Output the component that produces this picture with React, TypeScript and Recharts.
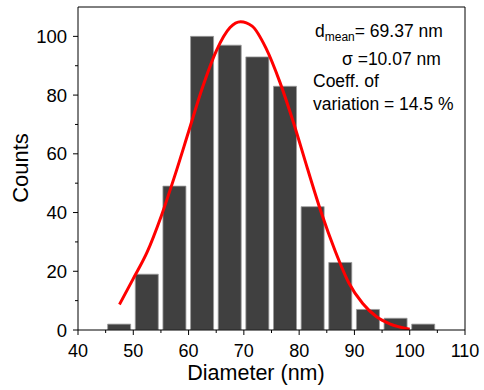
import {
  ComposedChart,
  Bar,
  Line,
  XAxis,
  YAxis,
  ReferenceLine,
  Label,
} from 'recharts';

// histogram bins (nm) and counts
const binCenters = [47.5, 52.5, 57.5, 62.5, 67.5, 72.5, 77.5, 82.5, 87.5, 92.5, 97.5, 102.5];
const counts = [2, 19, 49, 100, 97, 93, 83, 42, 23, 7, 4, 2];

// gaussian fit curve
const fitX = [47.5, 50, 52.5, 55, 57.5, 60, 62.5, 65, 67.5, 69.4, 71.5, 74, 76.5, 79, 81.5, 84, 86.5, 89, 91.5, 94, 96.5, 100];
const fitY = [8.7, 17.5, 26.5, 38.5, 52.5, 67.5, 82.5, 95, 103, 105, 103.5, 96, 84.5, 70.5, 55, 40, 27, 16, 9, 4.5, 2, 0.3];

const xTicks = [40, 45, 50, 55, 60, 65, 70, 75, 80, 85, 90, 95, 100, 105, 110];
const yTicks = [0, 10, 20, 30, 40, 50, 60, 70, 80, 90, 100];

const FONT = '"Liberation Sans", Arial, sans-serif';

const barData = binCenters.map((x, i) => ({ x, count: counts[i] }));
const fitData = fitX.map((x, i) => ({ x, fit: fitY[i] }));

const XTick = ({ x, y, payload }: any) => {
  const v = payload.value;
  const major = v % 10 === 0;
  return (
    <g>
      <line x1={x} x2={x} y1={y} y2={y + (major ? 5 : 3)} stroke="#000" strokeWidth={1} />
      {major && (
        <text x={x} y={y + 27} textAnchor="middle" fontSize={18} fontFamily={FONT} fill="#000">
          {v}
        </text>
      )}
    </g>
  );
};

const YTick = ({ x, y, payload }: any) => {
  const v = payload.value;
  const major = v % 20 === 0;
  return (
    <g>
      <line x1={x - (major ? 5 : 3)} x2={x} y1={y} y2={y} stroke="#000" strokeWidth={1} />
      {major && (
        <text x={x - 11} y={y + 6.5} textAnchor="end" fontSize={18.5} fontFamily={FONT} fill="#000">
          {v}
        </text>
      )}
    </g>
  );
};

export default function App() {
  return (
    <div style={{ position: 'absolute', left: 0, top: 0, width: 484, height: 390, background: '#fff' }}>
      <ComposedChart
        width={484}
        height={390}
        data={barData}
        margin={{ top: 7, right: 19, left: 18, bottom: 0 }}
      >
        <XAxis
          xAxisId="bar"
          dataKey="x"
          type="number"
          domain={[40, 110]}
          hide
        />
        <XAxis
          dataKey="x"
          type="number"
          domain={[40, 110]}
          ticks={xTicks}
          interval={0}
          height={60}
          tickSize={0}
          tickMargin={0}
          tick={<XTick />}
          axisLine={{ stroke: '#000', strokeWidth: 1 }}
          allowDataOverflow
        >
          <Label
            content={() => (
              <text x={256} y={380} textAnchor="middle" fontSize={21.5} fontFamily={FONT} fill="#000">
                Diameter (nm)
              </text>
            )}
          />
        </XAxis>
        <YAxis
          type="number"
          domain={[0, 110]}
          ticks={yTicks}
          interval={0}
          width={60}
          tickSize={0}
          tickMargin={0}
          tick={<YTick />}
          axisLine={{ stroke: '#000', strokeWidth: 1 }}
          allowDataOverflow
        >
          <Label
            content={() => (
              <text
                x={28}
                y={168}
                textAnchor="middle"
                fontSize={22}
                fontFamily={FONT}
                fill="#000"
                transform="rotate(-90 28 168)"
              >
                Counts
              </text>
            )}
          />
        </YAxis>
        <ReferenceLine y={110} stroke="#000" strokeWidth={1} />
        <ReferenceLine x={110} stroke="#000" strokeWidth={1} />
        <Bar
          xAxisId="bar"
          dataKey="count"
          barSize={23}
          fill="#404040"
          stroke="#9a9a9a"
          strokeWidth={0.8}
          isAnimationActive={false}
        />
        <Line
          data={fitData}
          dataKey="fit"
          type="monotone"
          stroke="#ff0000"
          strokeWidth={3}
          dot={false}
          activeDot={false}
          isAnimationActive={false}
        />
      </ComposedChart>
      <svg
        width={484}
        height={390}
        style={{ position: 'absolute', left: 0, top: 0, pointerEvents: 'none' }}
        fontFamily={FONT}
        fill="#000"
      >
        <text x={315} y={37} fontSize={17.5}>
          d<tspan fontSize={12} dy={4}>mean</tspan>
          <tspan dy={-4}>= 69.37 nm</tspan>
        </text>
        <text x={342} y={65} fontSize={17.5}>σ =10.07 nm</text>
        <text x={313} y={87} fontSize={17.5}>Coeff. of</text>
        <text x={313} y={110} fontSize={17.5}>variation = 14.5 %</text>
      </svg>
    </div>
  );
}
